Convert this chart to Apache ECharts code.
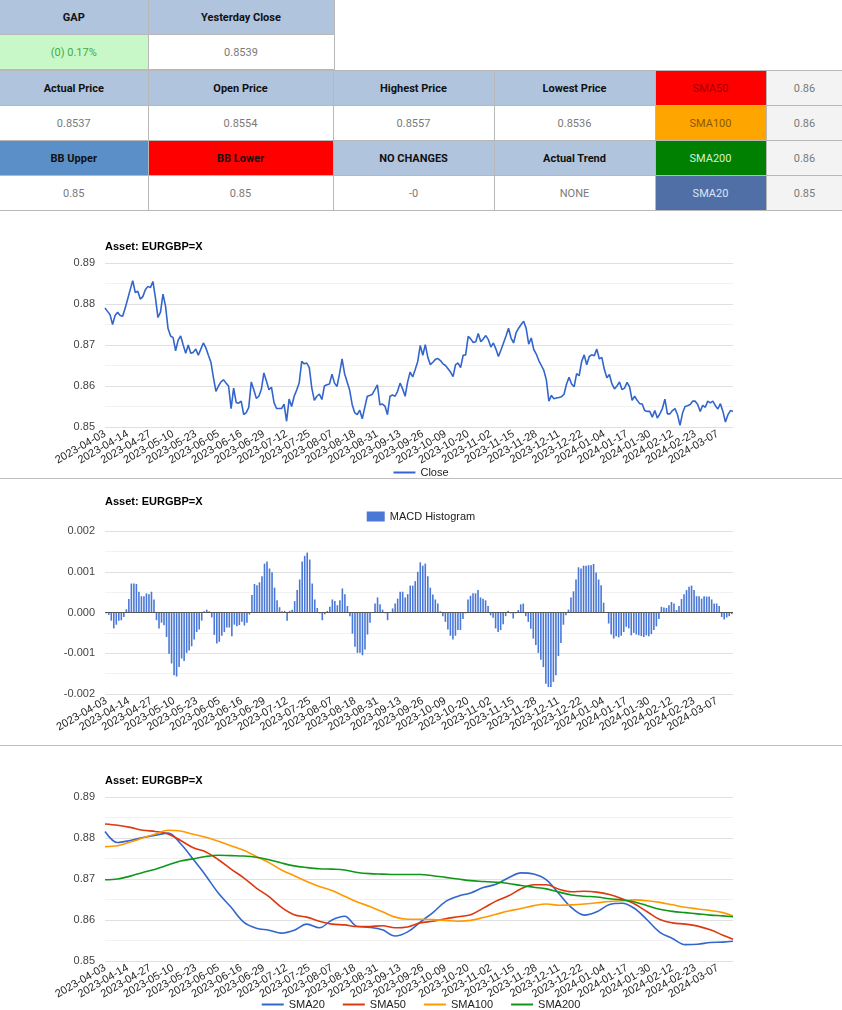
<!DOCTYPE html>
<html><head><meta charset="utf-8">
<script src="https://cdn.jsdelivr.net/npm/echarts@6/dist/echarts.min.js"></script>
<style>
body{margin:0;width:842px;height:1010px;overflow:hidden;background:#fff;font-family:"Liberation Sans Narrow","Roboto",sans-serif;position:relative;}
table{border-collapse:collapse;position:absolute;table-layout:fixed;left:0;}
td{border:1px solid #b8b8b8;text-align:center;font-size:11px;height:34px;padding:0;color:#7a7a7a;}
td.h{background:#b0c4de;color:#111;font-weight:bold;}
.chart{position:absolute;left:0;width:842px;}
.sep{position:absolute;left:0;width:842px;height:1px;background:#bdbdbd;}
</style></head><body>
<table style="top:0;width:334px;border-top:none;">
<colgroup><col style="width:148px"><col style="width:186px"></colgroup>
<tr><td class="h" style="border-top:none;border-left:none">GAP</td><td class="h" style="border-top:none">Yesterday Close</td></tr>
<tr><td style="background:#c8f8c8;color:#44aa44;border-left:none" id="gapv"></td><td id="yc"></td></tr>
</table>
<table style="top:70px;width:843px;">
<colgroup><col style="width:148px"><col style="width:185px"><col style="width:161px"><col style="width:161px"><col style="width:111px"><col style="width:77px"></colgroup>
<tr><td class="h" style="border-left:none">Actual Price</td><td class="h">Open Price</td><td class="h">Highest Price</td><td class="h">Lowest Price</td><td style="background:#ff0000;color:#a00000">SMA50</td><td style="background:#f3f3f3" id="s50"></td></tr>
<tr><td style="border-left:none" id="ap"></td><td id="op"></td><td id="hp"></td><td id="lp"></td><td style="background:#ffa500;color:#8a5a00">SMA100</td><td style="background:#f3f3f3" id="s100"></td></tr>
<tr><td class="h" style="background:#5b8fc8;border-left:none">BB Upper</td><td class="h" style="background:#ff0000">BB Lower</td><td class="h">NO CHANGES</td><td class="h">Actual Trend</td><td style="background:#008000;color:#d8f0d8">SMA200</td><td style="background:#f3f3f3" id="s200"></td></tr>
<tr><td style="border-left:none" id="bbu"></td><td id="bbl"></td><td id="nc"></td><td id="at"></td><td style="background:#4f6fa6;color:#dde6f5">SMA20</td><td style="background:#f3f3f3" id="s20"></td></tr>
</table>
<div class="chart" id="c1" style="top:212px;height:266px"></div>
<div class="sep" style="top:478px"></div>
<div class="chart" id="c2" style="top:479px;height:266px"></div>
<div class="sep" style="top:745px"></div>
<div class="chart" id="c3" style="top:746px;height:264px"></div>
<script>
// ---- table values ----
const gapText = "(0) 0.17%";
const yesterdayClose = "0.8539";
const actualPrice = "0.8537", openPrice = "0.8554", highestPrice = "0.8557", lowestPrice = "0.8536";
const bbUpper = "0.85", bbLower = "0.85", noChanges = "-0", actualTrend = "NONE";
const smaTable = {s50:"0.86", s100:"0.86", s200:"0.86", s20:"0.85"};

// ---- chart data ----
const startDate = "2023-04-03";
const pointCount = 250;
const closeValues = [
0.8790,0.8782,0.8774,0.8750,0.8772,0.8780,0.8772,0.8770,0.8790,0.8812,
0.8835,0.8857,0.8828,0.8831,0.8812,0.8818,0.8835,0.8843,0.8840,0.8855,
0.8815,0.8767,0.8780,0.8824,0.8795,0.8740,0.8722,0.8718,0.8686,0.8712,
0.8722,0.8700,0.8680,0.8700,0.8680,0.8682,0.8690,0.8675,0.8690,0.8705,
0.8693,0.8675,0.8658,0.8620,0.8587,0.8600,0.8610,0.8615,0.8607,0.8600,
0.8545,0.8595,0.8560,0.8558,0.8563,0.8530,0.8535,0.8548,0.8610,0.8591,
0.8570,0.8575,0.8592,0.8632,0.8612,0.8591,0.8597,0.8560,0.8545,0.8545,
0.8545,0.8556,0.8514,0.8568,0.8550,0.8575,0.8590,0.8608,0.8660,0.8654,
0.8656,0.8645,0.8595,0.8565,0.8575,0.8580,0.8567,0.8600,0.8603,0.8605,
0.8629,0.8607,0.8599,0.8630,0.8666,0.8630,0.8610,0.8590,0.8555,0.8535,
0.8530,0.8541,0.8520,0.8548,0.8575,0.8577,0.8580,0.8591,0.8603,0.8554,
0.8556,0.8551,0.8530,0.8575,0.8578,0.8575,0.8587,0.8607,0.8593,0.8575,
0.8610,0.8634,0.8622,0.8640,0.8660,0.8699,0.8675,0.8701,0.8670,0.8652,
0.8658,0.8665,0.8667,0.8662,0.8654,0.8650,0.8642,0.8634,0.8623,0.8652,
0.8656,0.8645,0.8675,0.8676,0.8721,0.8715,0.8706,0.8708,0.8728,0.8708,
0.8715,0.8723,0.8713,0.8695,0.8705,0.8690,0.8672,0.8688,0.8705,0.8722,
0.8741,0.8717,0.8705,0.8730,0.8741,0.8750,0.8758,0.8740,0.8702,0.8717,
0.8689,0.8678,0.8662,0.8650,0.8638,0.8615,0.8563,0.8577,0.8569,0.8571,
0.8572,0.8574,0.8580,0.8605,0.8621,0.8605,0.8598,0.8630,0.8625,0.8660,
0.8676,0.8652,0.8672,0.8676,0.8674,0.8690,0.8666,0.8670,0.8640,0.8620,
0.8628,0.8605,0.8593,0.8600,0.8610,0.8591,0.8595,0.8609,0.8598,0.8565,
0.8575,0.8565,0.8557,0.8556,0.8540,0.8538,0.8538,0.8524,0.8540,0.8522,
0.8532,0.8545,0.8568,0.8532,0.8532,0.8540,0.8545,0.8530,0.8504,0.8534,
0.8550,0.8552,0.8555,0.8563,0.8563,0.8555,0.8538,0.8553,0.8548,0.8563,
0.8559,0.8563,0.8552,0.8544,0.8557,0.8538,0.8512,0.8530,0.8540,0.8538];
const macdHist = [
-0.00002,-0.00006,-0.0002,-0.00039,-0.0003,-0.0002,-0.00019,-0.00011,0.00008,0.00033,
0.00071,0.00071,0.0007,0.00051,0.0004,0.0004,0.00047,0.00045,0.00051,0.00032,
-0.00019,-0.00039,-0.00025,-0.00031,-0.0006,-0.00101,-0.00125,-0.00154,-0.00157,-0.00134,
-0.00113,-0.00119,-0.00099,-0.00093,-0.00083,-0.00066,-0.00048,-0.00042,-0.0002,0.00003,
0.00007,0.00003,-0.00012,-0.00055,-0.00076,-0.00072,-0.00057,-0.00048,-0.00037,-0.00037,
-0.00058,-0.0003,-0.00034,-0.00031,-0.00023,-0.00032,-0.00025,-0.00005,0.00043,0.0007,
0.00067,0.00074,0.00089,0.0012,0.00125,0.00108,0.00099,0.00061,0.0003,0.00013,
0.00003,0.00004,-0.0002,0.00004,0.00007,0.00028,0.00055,0.00081,0.00125,0.00139,
0.00147,0.0013,0.00071,0.00032,0.00011,-0.00002,-0.00019,-0.00004,0.00004,0.00014,
0.00032,0.00028,0.00018,0.0003,0.00059,0.00045,0.00016,-0.00009,-0.00052,-0.00084,
-0.00099,-0.00099,-0.00105,-0.00091,-0.00054,-0.00025,-0.00001,0.00022,0.00037,0.0002,
0.00007,-0.00002,-0.00019,-0.00001,0.0001,0.00022,0.00034,0.00051,0.00051,0.00037,
0.00045,0.00066,0.00066,0.00077,0.001,0.00123,0.00115,0.0012,0.00089,0.00061,
0.00044,0.00032,0.00022,0.00003,-0.00009,-0.00023,-0.00042,-0.00057,-0.00066,-0.00057,
-0.00043,-0.00043,-0.00016,-0.00002,0.00032,0.00041,0.00047,0.00047,0.00055,0.00037,
0.00034,0.0003,0.00016,-0.00007,-0.00013,-0.00039,-0.00048,-0.00043,-0.00029,-0.00009,
0.00004,-0.00002,-0.00015,-0.00002,0.00006,0.0002,0.00022,-0.00009,-0.00023,-0.0004,
-0.00064,-0.0008,-0.00099,-0.00116,-0.00134,-0.00175,-0.00183,-0.00183,-0.0017,-0.00154,
-0.00107,-0.00075,-0.0003,-0.00007,0.00007,0.00037,0.00052,0.00081,0.00111,0.00108,
0.00115,0.00115,0.00116,0.00116,0.00119,0.00098,0.00081,0.00067,0.00024,0.00001,
-0.00027,-0.00054,-0.00064,-0.00058,-0.00061,-0.00057,-0.00048,-0.00035,-0.00039,-0.00056,
-0.0005,-0.00054,-0.00056,-0.00058,-0.0006,-0.00056,-0.00058,-0.00053,-0.00043,-0.00034,
-0.00016,0.00014,0.00012,0.00011,0.00018,0.00026,0.00022,0.00006,0.00016,0.00033,
0.00045,0.00055,0.00063,0.00066,0.00055,0.0004,0.0004,0.00034,0.0004,0.00039,
0.00039,0.00032,0.00022,0.00022,0.00016,-0.00011,-0.00017,-0.00012,-0.00009,-0.00004];
// SMA values read at these category indices
const smaIndex = [0,5,10,15,20,25,30,35,40,45,50,55,60,65,70,75,80,85,90,95,100,105,110,115,120,125,130,135,140,145,150,155,160,165,170,175,180,185,190,195,200,205,210,215,220,225,230,235,240,245,249];
const sma20 = [0.8816,0.8789,0.8794,0.8801,0.8807,0.8812,0.8786,0.8748,0.8708,0.8665,0.8631,0.8595,0.8580,0.8575,0.8568,0.8575,0.8590,0.8581,0.8600,0.8609,0.8584,0.8582,0.8576,0.8561,0.8571,0.8595,0.8618,0.8645,0.8658,0.8666,0.8679,0.8687,0.8703,0.8715,0.8712,0.8698,0.8664,0.8630,0.8612,0.8620,0.8638,0.8641,0.8628,0.8600,0.8570,0.8555,0.8540,0.8541,0.8545,0.8546,0.8548];
const sma50 = [0.8834,0.8831,0.8826,0.8819,0.8816,0.8810,0.8794,0.8776,0.8766,0.8747,0.8724,0.8703,0.8678,0.8657,0.8631,0.8613,0.8607,0.8597,0.8590,0.8588,0.8584,0.8584,0.8586,0.8581,0.8583,0.8593,0.8597,0.8603,0.8608,0.8613,0.8629,0.8646,0.8659,0.8676,0.8686,0.8686,0.8675,0.8669,0.8670,0.8668,0.8662,0.8652,0.8639,0.8620,0.8601,0.8593,0.8590,0.8585,0.8576,0.8563,0.8553];
const sma100 = [0.8779,0.8781,0.8790,0.8800,0.8810,0.8819,0.8817,0.8809,0.8802,0.8792,0.8781,0.8770,0.8755,0.8740,0.8722,0.8708,0.8694,0.8682,0.8672,0.8658,0.8644,0.8633,0.8620,0.8607,0.8602,0.8602,0.8601,0.8599,0.8597,0.8599,0.8606,0.8614,0.8622,0.8628,0.8635,0.8639,0.8636,0.8637,0.8639,0.8642,0.8645,0.8647,0.8649,0.8647,0.8643,0.8637,0.8631,0.8627,0.8623,0.8618,0.8610];
const sma200 = [0.8698,0.8700,0.8707,0.8716,0.8724,0.8734,0.8744,0.8749,0.8755,0.8758,0.8757,0.8756,0.8753,0.8747,0.8739,0.8732,0.8728,0.8725,0.8724,0.8722,0.8716,0.8713,0.8712,0.8711,0.8711,0.8711,0.8708,0.8704,0.8700,0.8696,0.8694,0.8692,0.8689,0.8684,0.8680,0.8676,0.8668,0.8661,0.8658,0.8656,0.8652,0.8649,0.8644,0.8635,0.8626,0.8621,0.8618,0.8615,0.8612,0.8610,0.8608];
const priceTicks = {min:0.85, max:0.89, step:0.01};
const macdTicks = {min:-0.002, max:0.002, step:0.001};
const assetTitle = "Asset: EURGBP=X";

// trading-day (weekday) categories
const dates = [];
(function(){
  const d = new Date(startDate + "T00:00:00Z");
  while (dates.length < pointCount) {
    const wd = d.getUTCDay();
    if (wd !== 0 && wd !== 6) dates.push(d.toISOString().slice(0,10));
    d.setUTCDate(d.getUTCDate() + 1);
  }
})();

// fill table
const setT = (id,t)=>document.getElementById(id).textContent=t;
setT('gapv',gapText); setT('yc',yesterdayClose); setT('ap',actualPrice); setT('op',openPrice);
setT('hp',highestPrice); setT('lp',lowestPrice); setT('bbu',bbUpper); setT('bbl',bbLower);
setT('nc',noChanges); setT('at',actualTrend);
Object.keys(smaTable).forEach(k=>setT(k,smaTable[k]));

const FONT = '"Liberation Sans", Arial, sans-serif';
const LINE_ICON = 'path://M0,0H22V2H0Z';
function xAxis(gap){
  return {type:'category', data:dates, boundaryGap:gap,
    axisLine:{show:false}, axisTick:{show:false},
    axisLabel:{interval:8, rotate:30, fontSize:11, color:'#222', fontFamily:FONT, margin:6}};
}
function yAxis(t, dec){
  return {type:'value', min:t.min, max:t.max, interval:t.step,
    axisLine:{show:false}, axisTick:{show:false},
    axisLabel:{formatter:v=>v.toFixed(dec), fontSize:11, color:'#444', fontFamily:FONT, margin:10},
    splitLine:{lineStyle:{color:'#e0e0e0', width:1}},
    minorTick:{show:false, splitNumber:2},
    minorSplitLine:{show:true, lineStyle:{color:'#f2f2f2', width:1}}};
}
function title(top){
  return {text:assetTitle, left:100, top:top,
    textStyle:{fontSize:11, fontWeight:'bold', color:'#000', fontFamily:FONT}};
}
function legend(top, gap, w, h, icon){
  return {show:true, type:'plain', orient:'horizontal', top:top, left:'center', itemGap:gap, itemWidth:w, itemHeight:h, icon:icon,
    textStyle:{fontSize:11, color:'#222', fontFamily:FONT}};
}

const c1 = echarts.init(document.getElementById('c1'));
c1.setOption({
  animation:false,
  title:title(24),
  grid:{left:105, right:109, top:51, bottom:51},
  legend:legend(250, 18, 22, 2, LINE_ICON),
  xAxis:xAxis(false),
  yAxis:yAxis(priceTicks,2),
  series:[{name:'Close', type:'line', data:closeValues, symbol:'none', showSymbol:false, lineStyle:{color:'#3366cc', width:1.6}, itemStyle:{color:'#3366cc'}}]
});

const c2 = echarts.init(document.getElementById('c2'));
c2.setOption({
  animation:false,
  title:title(12),
  grid:{left:105, right:109, top:52, bottom:51},
  legend:legend(27, 18, 18, 10, 'rect'),
  xAxis:xAxis(true),
  yAxis:yAxis(macdTicks,3),
  series:[{name:'MACD Histogram', type:'bar', data:macdHist, barWidth:1.6, itemStyle:{color:'#4a78d6'},
    markLine:{silent:true, symbol:'none', label:{show:false}, lineStyle:{color:'#555', width:1, type:'solid'}, data:[{yAxis:0}]}}]
});

const c3 = echarts.init(document.getElementById('c3'));
const smaColors = ['#3366cc','#dc3912','#ff9900','#109618'];
const smaSeries = [['SMA20',sma20],['SMA50',sma50],['SMA100',sma100],['SMA200',sma200]].map((s,k)=>({
  name:s[0], type:'line', smooth:0.35, symbol:'none', showSymbol:false,
  data:smaIndex.map((ix,j)=>[ix, s[1][j]]),
  lineStyle:{color:smaColors[k], width:1.6}, itemStyle:{color:smaColors[k]}
}));
c3.setOption({
  animation:false,
  title:title(24),
  grid:{left:105, right:109, top:51, bottom:49},
  legend:legend(248, 18, 22, 2, LINE_ICON),
  xAxis:xAxis(false),
  yAxis:yAxis(priceTicks,2),
  series:smaSeries
});
</script>
</body></html>
